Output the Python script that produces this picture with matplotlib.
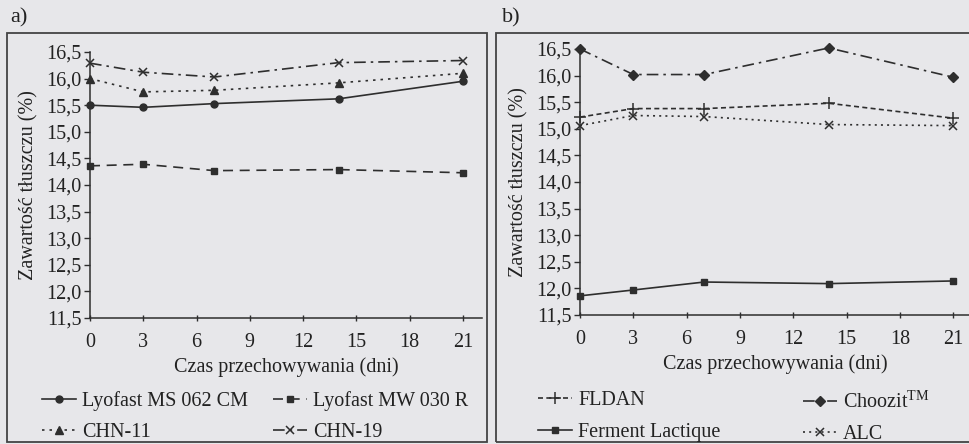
import matplotlib
matplotlib.use("Agg")
import matplotlib.pyplot as plt
from matplotlib.patches import Rectangle

plt.rcParams['font.family'] = ['Liberation Serif', 'DejaVu Serif']
plt.rcParams['font.size'] = 14.5
plt.rcParams['mathtext.fontset'] = 'custom'
plt.rcParams['mathtext.rm'] = 'Liberation Serif'

# ---------------- data ----------------
days = [0, 3, 7, 14, 21]
xticks = [0, 3, 6, 9, 12, 15, 18, 21]
yticks = [11.5, 12.0, 12.5, 13.0, 13.5, 14.0, 14.5, 15.0, 15.5, 16.0, 16.5]

# panel a
lyofast_ms = [15.50, 15.46, 15.53, 15.62, 15.95]
lyofast_mw = [14.36, 14.39, 14.27, 14.29, 14.23]
chn11 = [16.00, 15.75, 15.78, 15.92, 16.10]
chn19 = [16.29, 16.12, 16.03, 16.30, 16.34]

# panel b
fldan = [15.22, 15.38, 15.38, 15.48, 15.20]
choozit = [16.50, 16.02, 16.02, 16.52, 15.97]
ferment = [11.86, 11.97, 12.12, 12.09, 12.14]
alc = [15.06, 15.25, 15.23, 15.08, 15.06]

W, H = 970, 444
BG = '#e7e7ea'
LC = '#2e2e2e'

fig = plt.figure(figsize=(W / 100, H / 100), dpi=100, facecolor=BG)

def fx(px):
    return px / W

def fy(py):
    return 1 - py / H

# panel boxes
fig.patches.append(Rectangle((fx(7), fy(442)), fx(487) - fx(7), fy(33) - fy(442),
                             transform=fig.transFigure, fill=False, ec='#444444', lw=1.3))
fig.patches.append(Rectangle((fx(496), fy(442)), fx(980) - fx(496), fy(33) - fy(442),
                             transform=fig.transFigure, fill=False, ec='#444444', lw=1.3))

def make_axes(left_px, right_px, top_px, bottom_px, xmax):
    ax = fig.add_axes([fx(left_px), fy(bottom_px), fx(right_px) - fx(left_px), fy(top_px) - fy(bottom_px)])
    ax.set_facecolor('none')
    ax.set_xlim(0, xmax)
    ax.set_ylim(11.5, 16.5)
    for s in ['top', 'right']:
        ax.spines[s].set_visible(False)
    for s in ['left', 'bottom']:
        ax.spines[s].set_color(LC)
        ax.spines[s].set_linewidth(1.1)
    ax.set_xticks(xticks)
    ax.set_yticks(yticks)
    ax.set_yticklabels([f"{v:.1f}".replace('.', ',') for v in yticks])
    ax.tick_params(axis='x', direction='inout', length=5, width=1, color=LC, pad=8, labelcolor='#222222')
    ax.tick_params(axis='y', direction='out', length=4, width=1, color=LC, pad=2, labelcolor='#222222')
    ax.set_xlabel('Czas przechowywania (dni)', color='#222222', labelpad=4)
    ax.set_ylabel('Zawartość tłuszczu (%)', color='#222222', labelpad=6)
    return ax

axa = make_axes(90, 482, 52, 318, 22.07)
axb = make_axes(580, 970, 49, 315, 21.95)

kw = dict(color=LC, lw=1.2, clip_on=False)
la1, = axa.plot(days, lyofast_ms, '-', marker='o', ms=5, **kw)
la2, = axa.plot(days, lyofast_mw, linestyle=(0, (6, 4)), marker='s', ms=5, **kw)
la3, = axa.plot(days, chn11, linestyle=(0, (1.5, 3)), marker='^', ms=6, **kw)
la4, = axa.plot(days, chn19, linestyle=(0, (7, 3, 1.5, 3)), marker='x', ms=6, mew=1.1, **kw)

lb1, = axb.plot(days, fldan, linestyle=(0, (3, 2)), marker='+', ms=8, mew=1.1, **kw)
lb2, = axb.plot(days, choozit, linestyle=(0, (7, 3, 1.5, 3)), marker='D', ms=5.5, **kw)
lb3, = axb.plot(days, ferment, '-', marker='s', ms=5, **kw)
lb4, = axb.plot(days, alc, linestyle=(0, (1.2, 2.5)), marker='x', ms=6, mew=1.1, **kw)

fig.text(fx(10), fy(18), 'a)', ha='left', va='center', fontsize=16, color='#222222')
fig.text(fx(502), fy(18), 'b)', ha='left', va='center', fontsize=16, color='#222222')

def add_legend(handles, labels, x_px, y_px):
    leg = fig.legend(handles, labels, loc='upper left', bbox_to_anchor=(fx(x_px), fy(y_px)),
                     bbox_transform=fig.transFigure, frameon=False, handlelength=1.7,
                     handletextpad=0.3, borderpad=0, borderaxespad=0, labelspacing=0.62,
                     fontsize=14.5)
    for t in leg.get_texts():
        t.set_color('#222222')
    return leg

add_legend([la1, la3], ['Lyofast MS 062 CM', 'CHN-11'], 42, 391)
add_legend([la2, la4], ['Lyofast MW 030 R', 'CHN-19'], 273, 391)
add_legend([lb1, lb3], ['FLDAN', 'Ferment Lactique'], 538, 391)
add_legend([lb2, lb4], ['Choozit$^{\\mathrm{TM}}$', 'ALC'], 803, 391)

fig.savefig('out.png', dpi=100, facecolor=BG)
